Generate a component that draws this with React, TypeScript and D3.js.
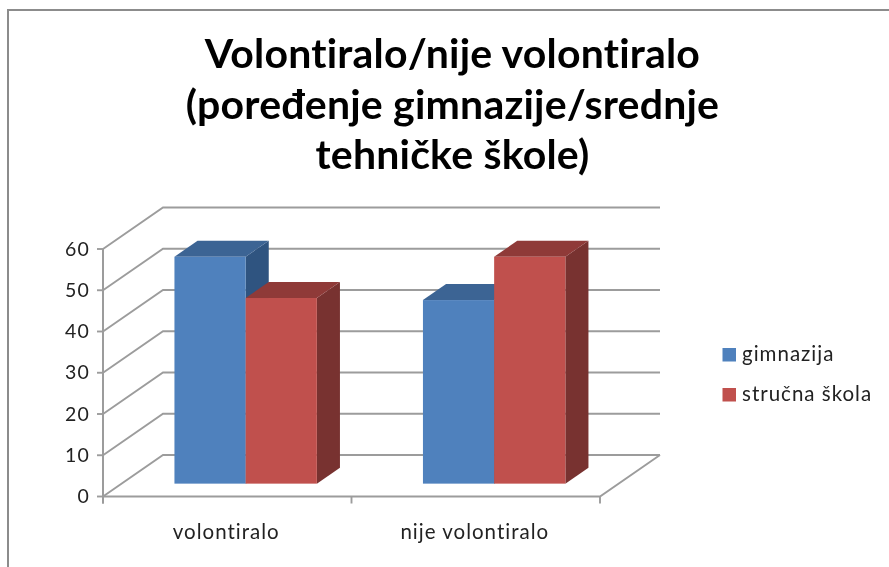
import * as d3 from "d3"

const categories = ["volontiralo", "nije volontiralo"]
const seriesNames = ["gimnazija", "stručna škola"]
const gimnazija = [55, 44.5]
const strucna = [45, 55]
const yTicks = [0, 10, 20, 30, 40, 50, 60]
const titleLines = ["Volontiralo/nije volontiralo", "(poređenje gimnazije/srednje", "tehničke škole)"]

const COLORS = [
  { front: "#4f81bd", top: "#3c6494", side: "#2f5480" },
  { front: "#c0504d", top: "#8f3a38", side: "#783230" },
]
const GRID = "#9c9c9c"
const FONT = "Lato, 'Open Sans', sans-serif"

const W = 889
const H = 567
const depthX = 60
const depthY = -41.5

// front plane of the floor
const x = d3.scaleBand<string>().domain(categories).range([103, 600])
const y = d3.scaleLinear().domain([0, 60]).range([496.5, 249])
const inner = d3.scaleBand<number>().domain([0, 1]).range([0, 142.4])

// bars sit between these two fractions of the floor depth
const z0 = 0.31
const z1 = 0.695

function Bar({ cat, s, value }: { cat: string; s: number; value: number }) {
  const c = COLORS[s]
  const center = x(cat)! + x.bandwidth() / 2
  const left = center - 71.2 + inner(s)! + 18.4
  const right = left + inner.bandwidth()
  const bottom = y(0) + z0 * depthY
  const top = y(value) + z0 * depthY
  const dx = (z1 - z0) * depthX
  const dy = (z1 - z0) * depthY
  return (
    <g>
      <polygon
        fill={c.side}
        points={`${right},${top} ${right + dx},${top + dy} ${right + dx},${bottom + dy} ${right},${bottom}`}
      />
      <polygon
        fill={c.top}
        points={`${left},${top} ${left + dx},${top + dy} ${right + dx},${top + dy} ${right},${top}`}
      />
      <rect x={left} y={top} width={right - left} height={bottom - top} fill={c.front} />
    </g>
  )
}

export default function App() {
  const x0 = x.range()[0]
  const x1 = x.range()[1]
  return (
    <svg
      width={W}
      height={H}
      viewBox={`0 0 ${W} ${H}`}
      style={{
        position: "absolute",
        left: 0,
        top: 0,
        background: "#fff",
        filter: "blur(0.45px)",
        fontVariantLigatures: "none",
      }}
      fontFamily={FONT}
    >
      <path d={`M8,${H} V10 H${W}`} fill="none" stroke="#8c8c8c" strokeWidth={2} />

      {titleLines.map((t, i) => (
        <text
          key={t}
          x={452.5}
          y={68 + i * 50.5}
          textAnchor="middle"
          fontSize={41}
          fontWeight={700}
          letterSpacing={0.2}
          fill="#000"
        >
          {t}
        </text>
      ))}

      {/* back wall and side wall gridlines */}
      {yTicks.map((t) => (
        <g key={t} stroke={GRID} strokeWidth={1.9} fill="none">
          <path d={`M${x0},${y(t)} L${x0 + depthX},${y(t) + depthY} H${x1 + depthX}`} />
          <line x1={x0 - 6} x2={x0} y1={y(t)} y2={y(t)} />
        </g>
      ))}

      {/* floor and axes */}
      <path
        d={`M${x0},${y(0)} H${x1} L${x1 + depthX},${y(0) + depthY}`}
        fill="none"
        stroke={GRID}
        strokeWidth={1.9}
      />
      <line x1={x0} x2={x0} y1={y(60)} y2={y(0) + 7} stroke={GRID} strokeWidth={2} />
      {[x0, x0 + x.bandwidth(), x1].map((v) => (
        <line key={v} x1={v} x2={v} y1={y(0)} y2={y(0) + 7} stroke={GRID} strokeWidth={1.9} />
      ))}

      {categories.map((cat, i) => (
        <g key={cat}>
          <Bar cat={cat} s={0} value={gimnazija[i]} />
          <Bar cat={cat} s={1} value={strucna[i]} />
        </g>
      ))}

      {yTicks.map((t) => (
        <text key={t} x={90} y={y(t) + 6.5} textAnchor="end" fontSize={19.5} letterSpacing={1.2} fill="#222">
          {t}
        </text>
      ))}

      {categories.map((cat) => (
        <text
          key={cat}
          x={x(cat)! + x.bandwidth() / 2 - 1}
          y={538.5}
          textAnchor="middle"
          fontSize={20.5}
          letterSpacing={1}
          fill="#222"
        >
          {cat}
        </text>
      ))}

      {seriesNames.map((name, i) => (
        <g key={name}>
          <rect x={722.5} y={348 + i * 40} width={13.5} height={13.5} fill={COLORS[i].front} />
          <text x={742} y={361 + i * 40} fontSize={20.5} letterSpacing={1} fill="#222">
            {name}
          </text>
        </g>
      ))}
    </svg>
  )
}
